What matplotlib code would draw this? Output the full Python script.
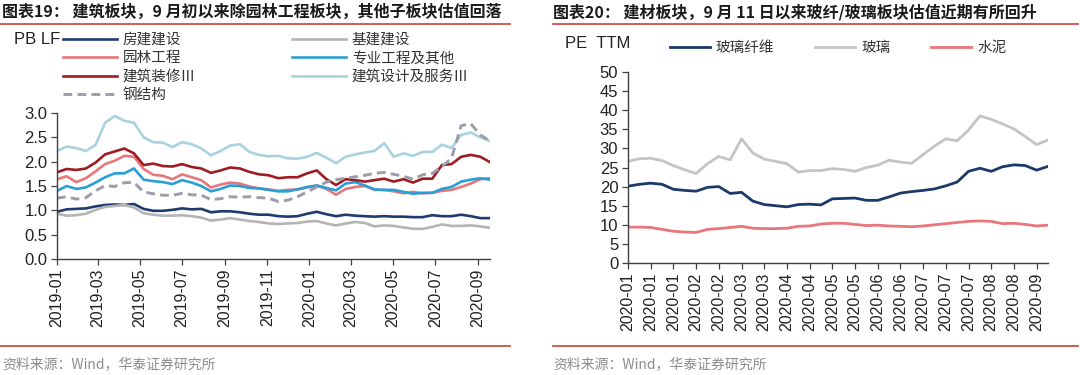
import matplotlib
matplotlib.use("Agg")
import matplotlib.pyplot as plt
import matplotlib.dates as mdates
from matplotlib.lines import Line2D
from matplotlib.ticker import FixedLocator, FormatStrFormatter
import pandas as pd

plt.rcParams['font.family'] = ['Liberation Sans', 'Noto Sans CJK SC', 'DejaVu Sans']

# ---------------- Left chart data (PB LF) ----------------
left_dates = pd.date_range('2019-01-01', '2020-09-18', periods=46)
fangjian = [0.97, 1.02, 1.03, 1.04, 1.08, 1.11, 1.12, 1.11, 1.13, 1.03, 0.99, 0.99, 1.01, 1.04, 1.02, 1.03,
            0.96, 0.98, 0.98, 0.96, 0.93, 0.91, 0.91, 0.88, 0.87, 0.88, 0.93, 0.97, 0.92, 0.88, 0.91, 0.89,
            0.88, 0.87, 0.88, 0.87, 0.87, 0.86, 0.86, 0.90, 0.88, 0.88, 0.91, 0.88, 0.84, 0.84]
jijian = [0.93, 0.89, 0.90, 0.93, 1.01, 1.07, 1.09, 1.11, 1.06, 0.94, 0.91, 0.89, 0.89, 0.90, 0.88, 0.85,
          0.79, 0.81, 0.84, 0.81, 0.78, 0.76, 0.73, 0.72, 0.73, 0.74, 0.77, 0.78, 0.73, 0.69, 0.73, 0.76,
          0.74, 0.67, 0.69, 0.68, 0.65, 0.62, 0.62, 0.66, 0.71, 0.68, 0.68, 0.69, 0.67, 0.64]
yuanlin = [1.64, 1.70, 1.58, 1.66, 1.80, 1.95, 2.02, 2.12, 2.10, 1.85, 1.73, 1.71, 1.64, 1.74, 1.68, 1.62,
           1.47, 1.53, 1.57, 1.55, 1.49, 1.45, 1.43, 1.40, 1.42, 1.43, 1.47, 1.51, 1.44, 1.32, 1.44, 1.48,
           1.50, 1.42, 1.42, 1.39, 1.35, 1.38, 1.35, 1.36, 1.40, 1.42, 1.48, 1.55, 1.64, 1.66]
zhuanye = [1.40, 1.50, 1.44, 1.47, 1.57, 1.68, 1.76, 1.76, 1.86, 1.63, 1.60, 1.58, 1.54, 1.62, 1.57, 1.50,
           1.39, 1.44, 1.51, 1.50, 1.46, 1.45, 1.42, 1.39, 1.39, 1.43, 1.48, 1.51, 1.46, 1.41, 1.55, 1.58,
           1.51, 1.43, 1.42, 1.42, 1.38, 1.34, 1.36, 1.36, 1.44, 1.48, 1.59, 1.63, 1.66, 1.63]
zhuangxiu = [1.78, 1.85, 1.83, 1.86, 1.98, 2.15, 2.21, 2.27, 2.17, 1.93, 1.96, 1.91, 1.90, 1.95, 1.89, 1.86,
             1.77, 1.82, 1.88, 1.86, 1.79, 1.74, 1.72, 1.66, 1.68, 1.68, 1.76, 1.82, 1.64, 1.52, 1.64, 1.62,
             1.59, 1.62, 1.65, 1.59, 1.64, 1.57, 1.65, 1.65, 1.93, 1.95, 2.10, 2.14, 2.10, 1.99]
sheji = [2.22, 2.31, 2.28, 2.22, 2.34, 2.80, 2.94, 2.84, 2.80, 2.50, 2.40, 2.39, 2.30, 2.40, 2.36, 2.27,
         2.13, 2.22, 2.33, 2.36, 2.20, 2.14, 2.11, 2.12, 2.07, 2.06, 2.10, 2.18, 2.08, 1.97, 2.10, 2.15,
         2.19, 2.22, 2.38, 2.10, 2.17, 2.12, 2.20, 2.20, 2.35, 2.28, 2.55, 2.60, 2.50, 2.42]
gangjiegou = [1.25, 1.28, 1.23, 1.26, 1.40, 1.51, 1.49, 1.57, 1.57, 1.38, 1.34, 1.31, 1.31, 1.35, 1.32, 1.31,
              1.22, 1.24, 1.28, 1.27, 1.28, 1.26, 1.25, 1.18, 1.21, 1.28, 1.38, 1.48, 1.58, 1.63, 1.66, 1.69,
              1.72, 1.76, 1.78, 1.74, 1.70, 1.64, 1.73, 1.76, 1.90, 2.07, 2.74, 2.78, 2.55, 2.42]
left_names = ['房建建设', '基建建设', '园林工程', '专业工程及其他', '建筑装修Ⅲ', '建筑设计及服务Ⅲ', '钢结构']
left_values = [fangjian, jijian, yuanlin, zhuanye, zhuangxiu, sheji, gangjiegou]
left_colors = ['#1F3A6E', '#B4B4B4', '#E8777A', '#2A9FD6', '#A01C22', '#A8D3DE', '#9B9DAA']
left_ticks = pd.date_range('2019-01-01', '2020-09-01', freq='2MS')

# ---------------- Right chart data (PE TTM) ----------------
right_dates = pd.date_range('2020-01-01', periods=38, freq='7D')
boxian = [20.1, 20.6, 20.9, 20.6, 19.3, 19.0, 18.8, 19.8, 20.0, 18.2, 18.5, 16.2, 15.3, 15.0, 14.7, 15.3,
          15.4, 15.2, 16.8, 16.9, 17.0, 16.4, 16.4, 17.3, 18.3, 18.7, 19.0, 19.4, 20.2, 21.2, 24.0, 24.8,
          24.0, 25.2, 25.7, 25.5, 24.3, 25.3]
boli = [26.6, 27.3, 27.4, 26.8, 25.5, 24.4, 23.4, 26.0, 27.9, 27.0, 32.5, 28.8, 27.2, 26.6, 26.0, 23.8,
        24.2, 24.2, 24.7, 24.5, 24.0, 25.0, 25.6, 26.9, 26.4, 26.1, 28.4, 30.6, 32.5, 32.0, 34.8, 38.5,
        37.6, 36.4, 35.1, 33.1, 31.0, 32.2]
shuini = [9.4, 9.4, 9.3, 8.8, 8.3, 8.1, 8.0, 8.8, 9.0, 9.3, 9.6, 9.1, 9.0, 9.0, 9.1, 9.6,
          9.7, 10.2, 10.4, 10.4, 10.1, 9.8, 9.9, 9.7, 9.6, 9.5, 9.7, 10.0, 10.3, 10.6, 10.9, 11.0,
          10.9, 10.3, 10.4, 10.1, 9.7, 9.9]
right_names = ['玻璃纤维', '玻璃', '水泥']
right_values = [boxian, boli, shuini]
right_colors = ['#1B3A6B', '#C4C4C4', '#E8767A']
right_ticks = pd.date_range('2020-01-01', '2020-09-09', freq='14D')

W, H = 1080, 375
fig = plt.figure(figsize=(W / 100, H / 100), dpi=100)
fig.patch.set_facecolor('white')

def fx(x):
    return x / W

def fy(y):
    return 1 - y / H

title_font = dict(family=['Noto Sans CJK SC', 'DejaVu Sans'], fontsize=11.5, fontweight='bold', color='#1a1a1a')
src_font = dict(family=['Noto Sans CJK SC', 'DejaVu Sans'], fontsize=10, color='#8c8c8c')
red = '#D0504A'

# titles and rules
fig.text(fx(2), fy(12), '图表19： 建筑板块，9 月初以来除园林工程板块，其他子板块估值回落', ha='left', va='center', **title_font)
fig.text(fx(553), fy(12), '图表20： 建材板块，9 月 11 日以来玻纤/玻璃板块估值近期有所回升', ha='left', va='center', **title_font)
for (x0, x1) in [(0, 510), (553, 1078)]:
    fig.add_artist(Line2D([fx(x0), fx(x1)], [fy(24), fy(24)], color=red, lw=1.3, transform=fig.transFigure))
    fig.add_artist(Line2D([fx(x0), fx(x1)], [fy(346), fy(346)], color=red, lw=1.3, transform=fig.transFigure))
fig.text(fx(2), fy(364), '资料来源：Wind，华泰证券研究所', ha='left', va='center', **src_font)
fig.text(fx(553), fy(364), '资料来源：Wind，华泰证券研究所', ha='left', va='center', **src_font)

def style_axes(ax):
    for s in ['top', 'right']:
        ax.spines[s].set_visible(False)
    for s in ['left', 'bottom']:
        ax.spines[s].set_color('#404040')
        ax.spines[s].set_linewidth(1.0)
    ax.tick_params(direction='out', length=4, width=0.9, color='#404040', labelcolor='#222222')
    ax.tick_params(axis='y', labelsize=12, pad=3)
    ax.tick_params(axis='x', labelsize=11.5, labelrotation=90, pad=3)

legend_prop = dict(family=['Noto Sans CJK SC', 'DejaVu Sans'], size=10.5)

# ---------------- Left axes ----------------
ax1 = fig.add_axes([fx(57), fy(259), fx(490 - 57), (259 - 113) / H])
handles = {}
for name, vals, col in zip(left_names, left_values, left_colors):
    if name == '钢结构':
        ln, = ax1.plot(left_dates, vals, color=col, lw=2.1, ls=(0, (3, 1.8)))
    else:
        ln, = ax1.plot(left_dates, vals, color=col, lw=1.9)
    handles[name] = ln
ax1.set_ylim(0, 3.0)
ax1.set_yticks([0, 0.5, 1.0, 1.5, 2.0, 2.5, 3.0])
ax1.yaxis.set_major_formatter(FormatStrFormatter('%.1f'))
ax1.set_xlim(left_dates[0], left_dates[-1])
ax1.xaxis.set_major_locator(FixedLocator(mdates.date2num(left_ticks)))
ax1.xaxis.set_major_formatter(mdates.DateFormatter('%Y-%m'))
style_axes(ax1)
fig.text(fx(14), fy(39), 'PB LF', ha='left', va='center', fontsize=12, color='#222222')

order = ['房建建设', '园林工程', '建筑装修Ⅲ', '钢结构', '基建建设', '专业工程及其他', '建筑设计及服务Ⅲ']
fig.legend([handles[n] for n in order], order, ncol=2, loc='upper left',
           bbox_to_anchor=(fx(63), fy(33)), frameon=False, prop=legend_prop,
           handlelength=3.7, handletextpad=0.4, columnspacing=6.6, labelspacing=0.3,
           borderpad=0, borderaxespad=0, labelcolor='#333333')

# ---------------- Right axes ----------------
ax2 = fig.add_axes([fx(628), fy(263), fx(1048 - 628), (263 - 72) / H])
rh = []
for name, vals, col in zip(right_names, right_values, right_colors):
    ln, = ax2.plot(right_dates, vals, color=col, lw=2.0)
    rh.append(ln)
ax2.set_ylim(0, 50)
ax2.set_yticks(list(range(0, 51, 5)))
ax2.set_xlim(right_dates[0], right_dates[-1])
ax2.xaxis.set_major_locator(FixedLocator(mdates.date2num(right_ticks)))
ax2.xaxis.set_major_formatter(mdates.DateFormatter('%Y-%m'))
style_axes(ax2)
fig.text(fx(565), fy(44), 'PE  TTM', ha='left', va='center', fontsize=12, color='#222222')
fig.legend(rh, right_names, ncol=3, loc='center left',
           bbox_to_anchor=(fx(670), fy(48)), frameon=False, prop=legend_prop,
           handlelength=2.75, handletextpad=0.4, columnspacing=2.8,
           borderpad=0, borderaxespad=0, labelcolor='#333333')

fig.savefig('out.png', dpi=100, facecolor='white')
